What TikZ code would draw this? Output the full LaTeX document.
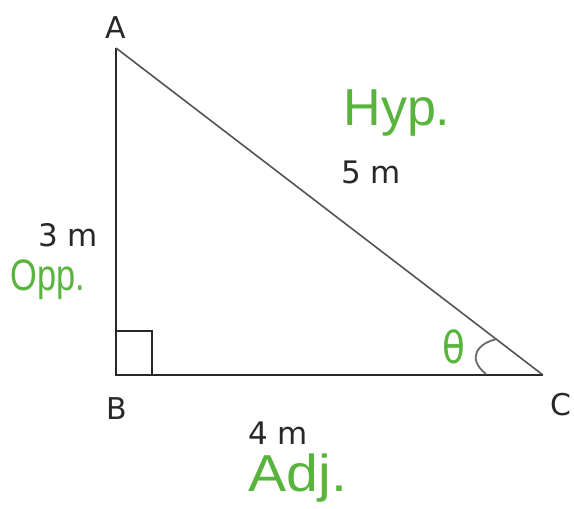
\documentclass[tikz,border=0pt]{standalone}
\usepackage{fontspec}
\setmainfont{DejaVu Sans}
\newfontfamily\handfont{Liberation Sans}
\definecolor{hand}{RGB}{88,180,60}
\definecolor{ink}{RGB}{40,40,40}
\begin{document}
\begin{tikzpicture}[x=1pt,y=-1pt,
  vlabel/.style={text=ink,inner sep=0pt,font=\fontsize{30}{30}\selectfont},
  mlabel/.style={text=ink,inner sep=0pt,font=\fontsize{31}{31}\selectfont},
  handlabel/.style={text=hand,inner sep=0pt,font=\handfont\fontsize{52}{52}\selectfont},
  leg/.style={draw=ink,line width=2.4pt},
  hyp/.style={draw=ink!80,line width=1.6pt}]
\useasboundingbox (0,0) rectangle (574,509);
\coordinate (A) at (116,48);
\coordinate (B) at (116,375);
\coordinate (C) at (543,375);
\draw[leg] (A) -- (B) -- (C);
\draw[hyp] (A) -- (C);
\draw[draw=ink,line width=1.8pt] (116,331) -- (152,331) -- (152,375);
\draw[draw=ink!70,line width=1.8pt] (497,339) .. controls (478,343) and (466,358) .. (486,374);
\node[vlabel] (lA) at (116,28) {A};
\node[vlabel] (lB) at (117,409) {B};
\node[vlabel] (lC) at (561,405) {C};
\node[mlabel] (l3) at (68,235) {3 m};
\node[mlabel] (l5) at (371,172) {5 m};
\node[mlabel] (l4) at (278,433) {4 m};
\node[handlabel] (hyp) at (397,113) {Hyp.};
\node[handlabel,xscale=0.78,font=\handfont\fontsize{44}{44}\selectfont] (opp) at (48,280) {Opp.};
\node[handlabel,xscale=1.1] (adj) at (298,478) {Adj.};
\node[text=hand,inner sep=0pt,font=\fontsize{44}{44}\selectfont,xscale=0.85] (th) at (454,347) {θ};
\end{tikzpicture}
\end{document}
